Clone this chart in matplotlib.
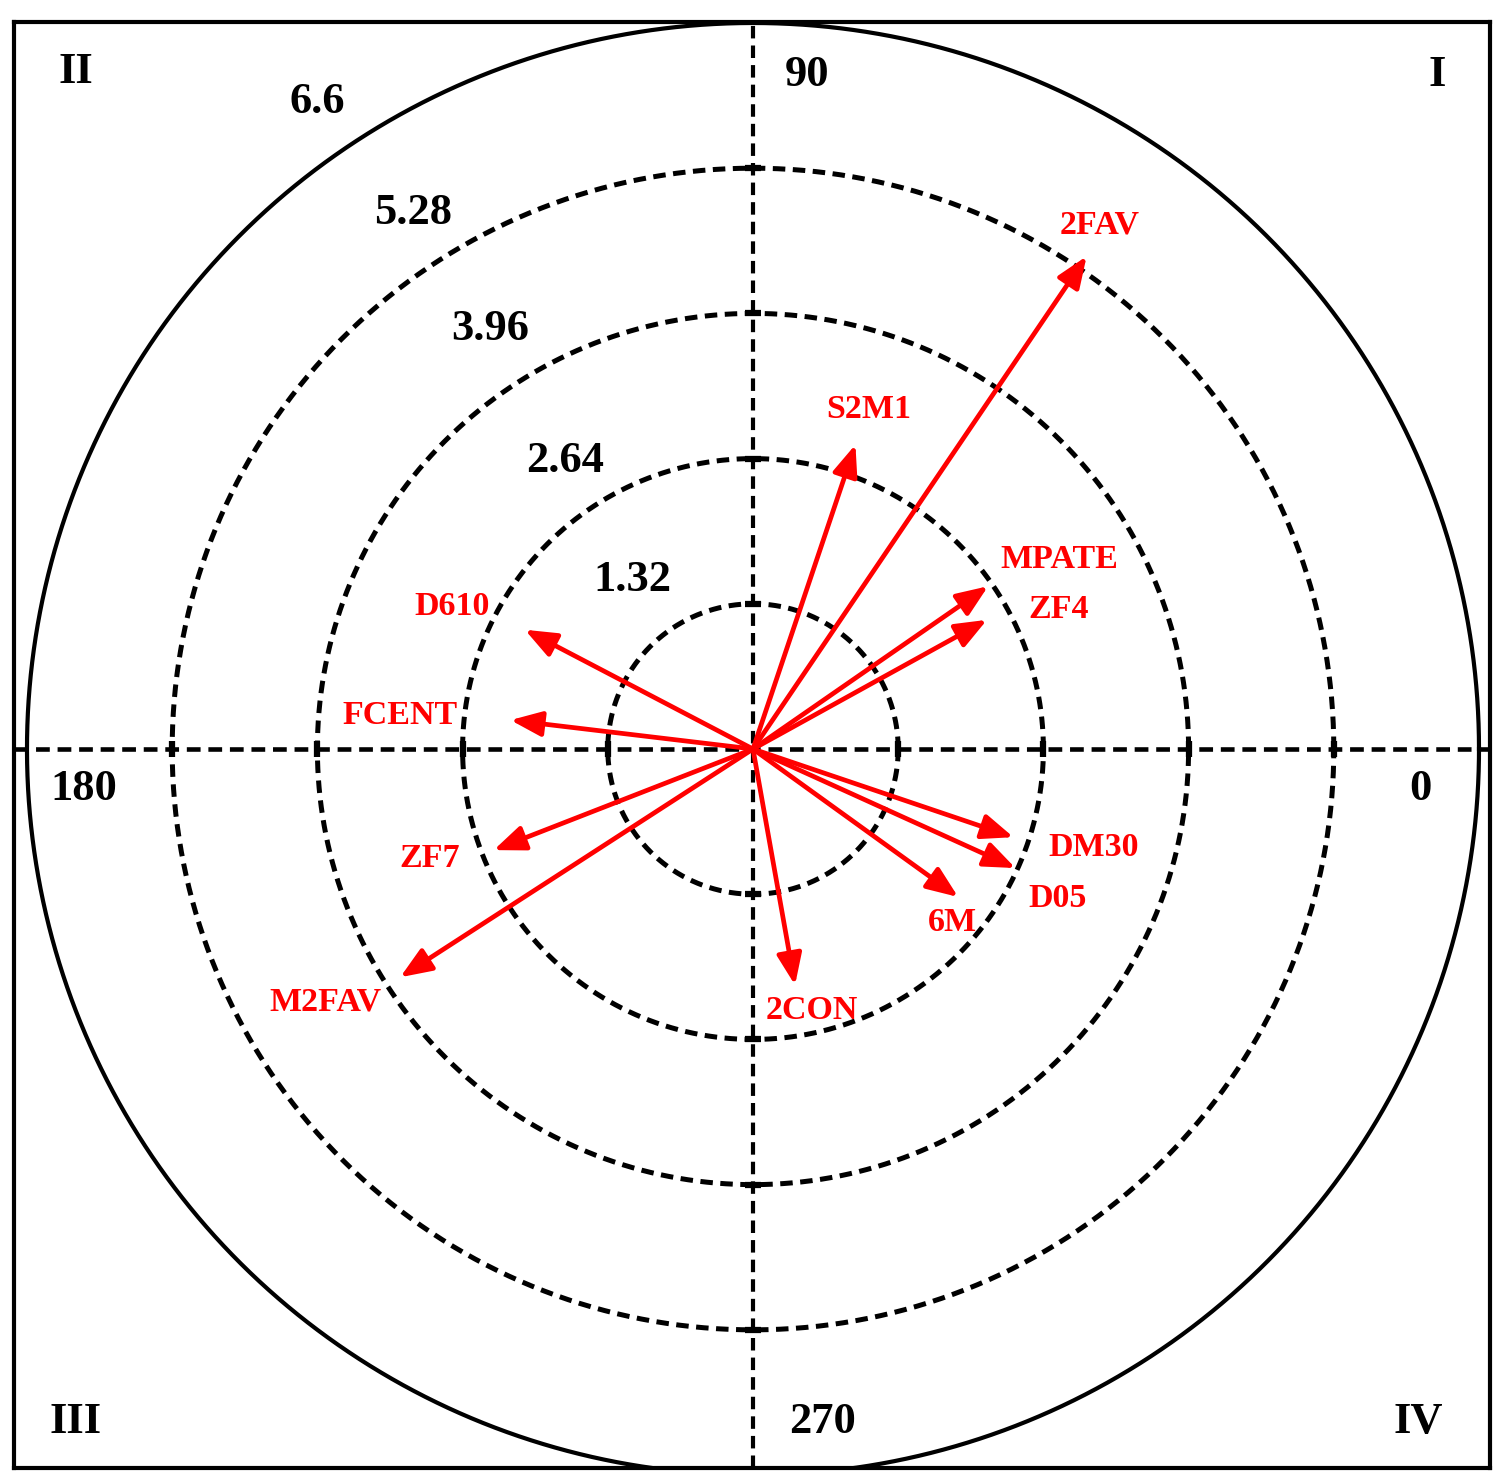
import numpy as np
import matplotlib
matplotlib.use("Agg")
import matplotlib.pyplot as plt

# ---------------- data ----------------
genotypes = ["2FAV", "S2M1", "MPATE", "ZF4", "DM30", "D05", "6M", "2CON",
             "M2FAV", "ZF7", "FCENT", "D610"]
vector_length = [5.41, 2.92, 2.60, 2.43, 2.50, 2.62, 2.30, 2.18,
                 3.82, 2.53, 2.22, 2.34]
vector_angle_deg = [55.9, 71.4, 34.7, 28.9, 341.3, 335.6, 324.2, 280.1,
                    212.9, 201.3, 173.2, 152.4]
ring_values = [1.32, 2.64, 3.96, 5.28, 6.6]
ring_labels = ["1.32", "2.64", "3.96", "5.28", "6.6"]
angle_labels = ["0", "90", "180", "270"]
quadrant_labels = ["I", "II", "III", "IV"]

# ---------------- layout / style ----------------
label_offsets_px = {  # label position relative to arrow tip, pixels (x right, y up)
    "2FAV": (13, 31), "S2M1": (13, 35), "MPATE": (71, 27), "ZF4": (72, 10),
    "DM30": (80, -10), "D05": (42, -30), "6M": (-6, -25), "2CON": (17, -25),
    "M2FAV": (-75, -25), "ZF7": (-64, -8), "FCENT": (-110, 5), "D610": (-73, 23),
}
ring_label_pos = {"1.32": (-1.10, 1.54), "2.64": (-1.71, 2.62),
                  "3.96": (-2.39, 3.82), "5.28": (-3.09, 4.87),
                  "6.6": (-3.96, 5.88)}
angle_label_pos = {"0": (6.07, -0.36), "90": (0.49, 6.13),
                   "180": (-6.08, -0.36), "270": (0.63, -6.12)}
quadrant_pos = {"I": (6.22, 6.13), "II": (-6.16, 6.15),
                "III": (-6.16, -6.12), "IV": (6.05, -6.12)}

RED = "#ff0000"
SERIF = ["Liberation Serif", "DejaVu Serif"]

W, H = 1500, 1475
fig = plt.figure(figsize=(W / 100, H / 100), dpi=100)
left_px, right_px, top_px, bot_px = 14, 1490, 22, 1468
ax = fig.add_axes([left_px / W, (H - bot_px) / H,
                   (right_px - left_px) / W, (bot_px - top_px) / H])
ax.set_xlim(-6.718, 6.700)
ax.set_ylim(-6.536, 6.609)
ax.set_xticks([])
ax.set_yticks([])
for s in ax.spines.values():
    s.set_linewidth(3.0)
    s.set_color("black")

# rings
t = np.linspace(0, 2 * np.pi, 1440)
for r in ring_values[:-1]:
    ax.plot(r * np.cos(t), r * np.sin(t), color="black", lw=3.6,
            linestyle=(0, (2.5, 1.5)), zorder=2)
r_out = ring_values[-1]
ax.plot(r_out * np.cos(t), r_out * np.sin(t), color="black", lw=3.0,
        zorder=2, clip_on=True)

# axes lines
ax.axhline(0, color="black", lw=3.3, linestyle=(0, (3.0, 1.7)), zorder=2)
ax.axvline(0, color="black", lw=3.0, linestyle=(0, (3.0, 1.7)), zorder=2)

# small ticks at ring / axis crossings
rv = np.array(ring_values[:-1])
ax.plot(np.concatenate([rv, -rv]), np.zeros(2 * len(rv)), linestyle="none",
        marker="|", markersize=12, markeredgewidth=4.5, color="black", zorder=3)
ax.plot(np.zeros(2 * len(rv)), np.concatenate([rv, -rv]), linestyle="none",
        marker="_", markersize=12, markeredgewidth=4.5, color="black", zorder=3)

# ring labels
for lab in ring_labels:
    x, y = ring_label_pos[lab]
    ax.text(x, y, lab, ha="center", va="center", fontsize=32,
            fontweight="bold", family=SERIF, color="black", zorder=5)

# angle labels
for lab in angle_labels:
    x, y = angle_label_pos[lab]
    ax.text(x, y, lab, ha="center", va="center", fontsize=32,
            fontweight="bold", family=SERIF, color="black", zorder=5)

# quadrant labels
for lab in quadrant_labels:
    x, y = quadrant_pos[lab]
    ax.text(x, y, lab, ha="center", va="center", fontsize=32,
            fontweight="bold", family=SERIF, color="black", zorder=5)

# vectors
ang = np.deg2rad(vector_angle_deg)
xs = np.array(vector_length) * np.cos(ang)
ys = np.array(vector_length) * np.sin(ang)
for name, x, y in zip(genotypes, xs, ys):
    ax.annotate("", xy=(x, y), xytext=(0, 0),
                arrowprops=dict(arrowstyle="-|>,head_length=0.95,head_width=0.38",
                                color=RED, lw=3.4, shrinkA=0, shrinkB=0,
                                mutation_scale=20),
                zorder=4)
    ox, oy = label_offsets_px[name]
    ax.annotate(name, xy=(x, y), xytext=(ox, oy), textcoords="offset pixels",
                ha="center", va="center", fontsize=24.5, fontweight="bold",
                family=SERIF, color=RED, zorder=5)

fig.savefig("out.png", dpi=100, facecolor="white")
